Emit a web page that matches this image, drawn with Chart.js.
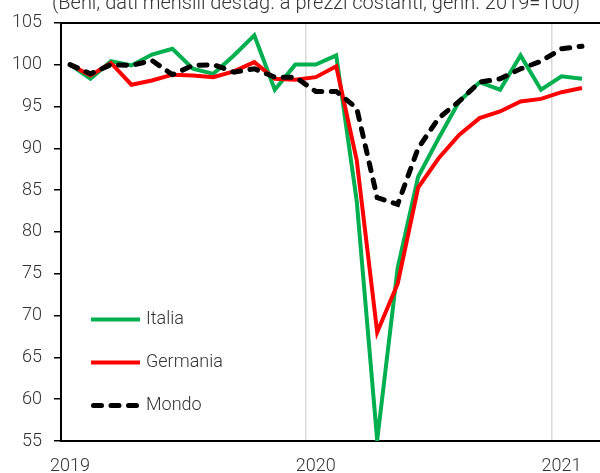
<!DOCTYPE html>
<html>
<head>
<meta charset="utf-8">
<script src="https://cdn.jsdelivr.net/npm/chart.js@4.4.1/dist/chart.umd.min.js"></script>
<style>
  html, body { margin: 0; padding: 0; background: #fff; }
  #chart { display: block; }
</style>
</head>
<body>
<canvas id="chart" width="600" height="473"></canvas>
<script>
// monthly, Jan 2019 - Feb 2021
const mesi = [
  "2019-01", "2019-02", "2019-03", "2019-04", "2019-05", "2019-06", "2019-07", "2019-08", "2019-09", "2019-10", "2019-11", "2019-12",
  "2020-01", "2020-02", "2020-03", "2020-04", "2020-05", "2020-06", "2020-07", "2020-08", "2020-09", "2020-10", "2020-11", "2020-12",
  "2021-01", "2021-02"
];
const italia = [100, 98.3, 100.4, 99.9, 101.2, 101.9, 99.5, 98.9, 101.1, 103.5, 97.0, 100.0,
  100.0, 101.1, 83.7, 55.1, 75.7, 86.6, 91.2, 95.6, 97.9, 97.0, 101.1, 97.0, 98.6, 98.3];
const germania = [100, 98.7, 100.2, 97.6, 98.1, 98.8, 98.7, 98.5, 99.2, 100.3, 98.3, 98.2,
  98.5, 99.8, 88.6, 68.0, 73.8, 85.3, 88.8, 91.6, 93.6, 94.4, 95.6, 95.9, 96.7, 97.2];
const mondo = [100, 98.9, 100.0, 99.9, 100.5, 98.8, 99.9, 100.0, 99.1, 99.5, 98.5, 98.5,
  96.8, 96.8, 94.8, 84.1, 83.3, 90.0, 93.6, 95.6, 97.9, 98.3, 99.5, 100.4, 101.9, 102.2];
const yearLabels = ["2019", "2020", "2021"];
const yearTicks = [0, 12, 24];       // January positions
const yearLines = [11.5, 23.5];      // separators between Dec and Jan

const titolo = "(Beni; dati mensili destag. a prezzi costanti; genn. 2019=100)";
const FONT = "Roboto";
const TXT = "#333333";

function pts(arr) {
  return arr.map((v, i) => ({ x: i, y: v }));
}

const series = [
  { label: "Italia", data: italia, color: "#00B050", dash: [] },
  { label: "Germania", data: germania, color: "#FF0000", dash: [] },
  { label: "Mondo", data: mondo, color: "#000000", dash: [8, 9.5] }
];

// title (cut off at the top of the picture) and in-plot legend
const extras = {
  id: "extras",
  afterDraw(chart) {
    const ctx = chart.ctx;
    ctx.save();
    ctx.font = "300 20px " + FONT;
    ctx.fillStyle = TXT;
    ctx.textAlign = "center";
    ctx.textBaseline = "alphabetic";
    ctx.fillText(titolo, 316, 9);

    ctx.font = "300 18px " + FONT;
    ctx.textAlign = "left";
    ctx.textBaseline = "middle";
    series.forEach((s, i) => {
      const y = 319.5 + i * 43;
      const dashed = s.dash.length > 0;
      ctx.beginPath();
      ctx.strokeStyle = s.color;
      ctx.lineWidth = dashed ? 5 : 4;
      ctx.lineCap = dashed ? "round" : "butt";
      ctx.setLineDash(s.dash);
      ctx.moveTo(dashed ? 93.5 : 91, y);
      ctx.lineTo(140, y);
      ctx.stroke();
      ctx.setLineDash([]);
      ctx.fillStyle = TXT;
      ctx.fillText(s.label, 146, y);
    });
    ctx.restore();
  }
};

const ctx = document.getElementById("chart").getContext("2d");
new Chart(ctx, {
  type: "line",
  data: {
    datasets: series.map(s => ({
      label: s.label,
      data: pts(s.data),
      borderColor: s.color,
      borderWidth: s.dash.length ? 5 : 4,
      borderDash: s.dash,
      borderCapStyle: s.dash.length ? "round" : "butt",
      borderJoinStyle: "miter",
      pointRadius: 0,
      tension: 0,
      fill: false
    })).reverse()
  },
  options: {
    responsive: false,
    animation: false,
    layout: { padding: { top: 21, right: 0, left: 0, bottom: 0 } },
    plugins: {
      legend: { display: false },
      tooltip: { enabled: false }
    },
    scales: {
      x: {
        type: "linear",
        position: "bottom",
        min: -0.44,
        max: 25.88,
        afterBuildTicks: s => { s.ticks = yearTicks.map(v => ({ value: v })); },
        afterFit: s => { s.height = 32; },
        ticks: {
          autoSkip: false,
          maxRotation: 0,
          padding: 15,
          color: TXT,
          font: { family: FONT, size: 18, weight: 300 },
          callback: (v) => yearLabels[yearTicks.indexOf(v)]
        },
        grid: { drawOnChartArea: false, drawTicks: false },
        border: { display: true, color: "#000", width: 2 }
      },
      x2: {
        type: "linear",
        position: "top",
        min: -0.44,
        max: 25.88,
        afterBuildTicks: s => { s.ticks = yearLines.map(v => ({ value: v })); },
        afterFit: s => { s.height = 0; },
        ticks: { display: false },
        grid: { color: "#D9D9D9", lineWidth: 1.5, drawTicks: false },
        border: { display: true, color: "#000", width: 2 }
      },
      y: {
        min: 55,
        max: 105,
        afterFit: s => { s.width = 61; },
        ticks: {
          stepSize: 5,
          padding: 12,
          color: TXT,
          font: { family: FONT, size: 18, weight: 300 }
        },
        grid: { drawOnChartArea: false, drawTicks: true, tickLength: 7, color: "#000", lineWidth: 1.5 },
        border: { display: true, color: "#000", width: 2 }
      }
    }
  },
  plugins: [extras]
});
</script>
</body>
</html>
